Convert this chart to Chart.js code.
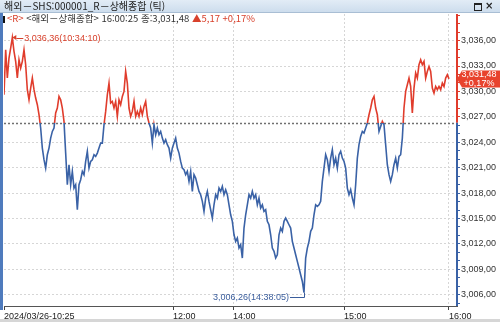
<!DOCTYPE html>
<html lang="ko">
<head>
<meta charset="utf-8">
<script src="https://cdn.jsdelivr.net/npm/chart.js@4.4.1/dist/chart.umd.min.js"></script>
<style>
  html, body { margin: 0; padding: 0; background: #fff; }
  #wrap { position: absolute; left: 0; top: 0; width: 500px; height: 322px; }
  #titlebar {
    position: absolute; left: 0; top: 0; width: 500px; height: 12px;
    background: linear-gradient(#e2ecf6, #cddded); border-bottom: 1px solid #a9bed4;
    font: 10px "Noto Sans CJK KR", sans-serif; color: #222; line-height: 12px;
  }
  #titlebar .t { position: absolute; left: 4px; top: 0; }
  #titlebar .b1 { position: absolute; left: 474px; top: 3px; width: 6px; height: 5px; border: 1px solid #222; border-top-width: 2px; }
  #titlebar .b2 { position: absolute; left: 485px; top: 0; font: bold 10px "DejaVu Sans", sans-serif; }
  #info {
    position: absolute; left: 3px; top: 13px; height: 11px; white-space: nowrap;
    font: 9.5px "Noto Sans CJK KR", sans-serif; color: #333; line-height: 11px;
  }
  #info .r { color: #d8412c; }
  #info .blk { display: inline-block; width: 2px; height: 7px; background: #111; margin-right: 2px; vertical-align: -1px; }
  #edge { position: absolute; left: 0; top: 13px; width: 3px; height: 297px; background: #4f7bbd; }
  #foot { position: absolute; left: 0; top: 319px; width: 500px; height: 3px; background: #d6d6d6; }
</style>
</head>
<body>
<div id="wrap"><canvas id="chart"></canvas></div>
<div id="titlebar"><span class="t">해외－SHS:000001_R－상해종합 (틱)</span><span class="b1"></span><span class="b2">×</span></div>
<div id="info"><span class="blk"></span><span class="r">&lt;R&gt;</span> &lt;해외－상해종합&gt; 16:00:25 종:3,031,48 <span class="r">▲5,17 +0,17%</span></div>
<div id="edge"></div>
<div id="foot"></div>
<script>
// 틱 가격 (10:25 ~ 16:00)
const prices = [
  3029.61, 3034.92, 3031.58, 3033.94, 3035.12, 3036.36, 3034.73, 3033.55, 3031.58, 3033.74,
  3032.76, 3033.55, 3034.92, 3033.15, 3030.20, 3029.02, 3030.40, 3031.58, 3030.20, 3029.22,
  3028.43, 3027.25, 3025.68, 3023.31, 3021.94, 3020.95, 3022.53, 3023.31, 3024.49, 3025.28,
  3025.68, 3027.45, 3028.04, 3029.41, 3029.02, 3028.04, 3026.46, 3022.72, 3018.99, 3021.35,
  3018.99, 3020.56, 3018.59, 3018.99, 3016.03, 3018.99, 3019.58, 3020.56, 3020.17, 3021.74,
  3022.92, 3020.95, 3021.74, 3021.94, 3022.53, 3022.33, 3022.72, 3023.31, 3023.90, 3023.90,
  3026.07, 3027.64, 3029.61, 3030.99, 3028.63, 3028.82, 3028.04, 3028.82, 3027.05, 3029.02,
  3028.43, 3029.41, 3030.00, 3032.36, 3030.99, 3028.04, 3027.05, 3027.64, 3028.82, 3027.05,
  3027.64, 3027.05, 3028.04, 3027.25, 3028.23, 3028.82, 3027.05, 3026.27, 3025.68, 3023.90,
  3026.07, 3024.89, 3025.68, 3024.89, 3025.28, 3024.49, 3023.90, 3024.30, 3023.71, 3023.31,
  3022.13, 3023.31, 3023.90, 3024.49, 3023.31, 3022.72, 3021.74, 3020.95, 3020.76, 3020.17,
  3020.56, 3019.38, 3020.56, 3018.20, 3020.17, 3019.77, 3018.99, 3018.20, 3017.81, 3017.02,
  3015.84, 3017.41, 3018.20, 3017.02, 3016.03, 3015.05, 3016.62, 3017.81, 3017.41, 3018.59,
  3018.20, 3018.79, 3017.81, 3018.40, 3017.81, 3016.62, 3015.44, 3014.66, 3013.08, 3012.30,
  3012.69, 3011.51, 3011.90, 3010.33, 3013.87, 3015.44, 3016.62, 3017.81, 3017.41, 3018.20,
  3017.41, 3017.81, 3016.62, 3017.41, 3016.23, 3016.62, 3015.84, 3016.03, 3014.66, 3014.26,
  3013.08, 3011.51, 3011.12, 3010.33, 3010.72, 3013.08, 3013.87, 3013.48, 3014.66, 3015.05,
  3014.66, 3014.26, 3013.87, 3012.30, 3011.51, 3010.72, 3009.94, 3009.15, 3008.36, 3007.57,
  3006.26, 3010.33, 3011.51, 3012.30, 3013.48, 3013.87, 3015.44, 3016.62, 3016.43, 3016.62,
  3017.02, 3019.38, 3020.95, 3022.53, 3021.94, 3020.56, 3022.13, 3023.12, 3021.35, 3022.13,
  3020.95, 3022.53, 3022.92, 3022.13, 3021.74, 3020.95, 3018.59, 3017.81, 3018.40, 3017.41,
  3016.62, 3018.99, 3022.13, 3023.71, 3024.69, 3025.28, 3025.08, 3025.68, 3026.27, 3027.25,
  3028.04, 3029.02, 3029.41, 3028.04, 3027.25, 3025.28, 3025.87, 3026.46, 3026.07, 3023.71,
  3021.35, 3020.17, 3019.38, 3020.17, 3021.35, 3022.13, 3020.95, 3022.33, 3022.53, 3024.49,
  3028.04, 3030.00, 3030.79, 3031.58, 3030.59, 3027.45, 3030.40, 3032.17, 3031.58, 3033.15,
  3033.74, 3033.15, 3033.55, 3031.58, 3032.36, 3032.95, 3032.36, 3030.40, 3029.81, 3030.59,
  3030.20, 3030.59, 3030.20, 3030.99, 3030.59, 3031.58, 3031.97, 3031.48
];
const prevClose = 3026.31;
const lastPrice = 3031.48;
const changePct = '+0,17%';
const maxTime = '10:34:10';
const minTime = '14:38:05';

// x축 눈금 (틱 순번 기준)
const xTickPos = [0, 101.4, 137.4, 204, 267];
const xTickLabels = ['2024/03/26-10:25', '12:00', '14:00', '15:00', '16:00'];
// y축 눈금
const yMajor = [3006, 3009, 3012, 3015, 3018, 3021, 3024, 3027, 3030, 3033, 3036];
const yMinor = [];
for (let v = 3005; v <= 3039; v++) yMinor.push(v);

const RED = '#e03c2c';
const BLUE = '#3a62a6';
const RED_TXT = '#d8412c';
const BLUE_TXT = '#3a5d9c';

function fmt(v) {
  const [a, b] = v.toFixed(2).split('.');
  return a.replace(/\B(?=(\d{3})+(?!\d))/g, ',') + ',' + b;
}

function lineColor(context) {
  const chart = context.chart;
  const a = chart.chartArea;
  if (!a) return RED;
  const yb = chart.scales.y.getPixelForValue(prevClose);
  const f = Math.min(1, Math.max(0, (yb - a.top) / (a.bottom - a.top)));
  const g = chart.ctx.createLinearGradient(0, a.top, 0, a.bottom);
  g.addColorStop(0, RED);
  g.addColorStop(f, RED);
  g.addColorStop(f, BLUE);
  g.addColorStop(1, BLUE);
  return g;
}

const overlay = {
  id: 'overlay',
  beforeDatasetsDraw(chart) {
    const { ctx, chartArea: a, scales: { y } } = chart;
    const yb = Math.round(y.getPixelForValue(prevClose)) + 0.5;
    ctx.save();
    ctx.strokeStyle = '#707070';
    ctx.lineWidth = 1.5;
    ctx.setLineDash([2, 2]);
    ctx.beginPath();
    ctx.moveTo(a.left, yb);
    ctx.lineTo(a.right, yb);
    ctx.stroke();
    ctx.restore();
  },
  afterDatasetsDraw(chart) {
    const { ctx, chartArea: a, scales: { x, y } } = chart;
    const yb = y.getPixelForValue(prevClose);
    ctx.save();

    // 오른쪽 축선 (전일종가 위 빨강, 아래 파랑)
    ctx.lineWidth = 2;
    ctx.strokeStyle = RED;
    ctx.beginPath(); ctx.moveTo(a.right, a.top); ctx.lineTo(a.right, yb); ctx.stroke();
    ctx.strokeStyle = BLUE;
    ctx.beginPath(); ctx.moveTo(a.right, yb); ctx.lineTo(a.right, a.bottom); ctx.stroke();

    ctx.font = '9px "Liberation Sans"';
    ctx.textBaseline = 'middle';
    ctx.lineWidth = 1;

    // 최고가
    const hi = Math.max(...prices);
    const iHi = prices.indexOf(hi);
    const hx = x.getPixelForValue(iHi), hy = y.getPixelForValue(hi);
    ctx.fillStyle = RED_TXT;
    ctx.strokeStyle = RED_TXT;
    ctx.beginPath(); ctx.moveTo(hx, hy); ctx.lineTo(hx + 4, hy - 2.5); ctx.lineTo(hx + 4, hy + 2.5); ctx.closePath(); ctx.fill();
    ctx.beginPath(); ctx.moveTo(hx + 4, Math.round(hy) + 0.5); ctx.lineTo(hx + 11, Math.round(hy) + 0.5); ctx.stroke();
    ctx.textAlign = 'left';
    ctx.fillText(fmt(hi) + '(' + maxTime + ')', hx + 12, hy + 0.5);

    // 최저가
    const lo = Math.min(...prices);
    const iLo = prices.indexOf(lo);
    const lx = x.getPixelForValue(iLo), ly = y.getPixelForValue(lo);
    const ty = Math.round(ly + 4) + 0.5;
    ctx.fillStyle = BLUE_TXT;
    ctx.strokeStyle = BLUE_TXT;
    ctx.beginPath(); ctx.moveTo(lx - 14, ty); ctx.lineTo(Math.round(lx) + 0.5, ty); ctx.lineTo(Math.round(lx) + 0.5, ly); ctx.stroke();
    ctx.textAlign = 'right';
    ctx.fillText(fmt(lo) + '(' + minTime + ')', lx - 15, ty);

    // 현재가 박스
    const cy = y.getPixelForValue(lastPrice);
    ctx.fillStyle = '#e8432d';
    ctx.beginPath();
    ctx.moveTo(a.right, cy);
    ctx.lineTo(a.right + 5, cy - 8.5);
    ctx.lineTo(500, cy - 8.5);
    ctx.lineTo(500, cy + 8.5);
    ctx.lineTo(a.right + 5, cy + 8.5);
    ctx.closePath();
    ctx.fill();
    ctx.fillStyle = '#fff';
    ctx.textAlign = 'center';
    ctx.fillText(fmt(lastPrice), 479, cy - 4);
    ctx.fillText(changePct, 479, cy + 4.5);

    ctx.restore();
  }
};

new Chart(document.getElementById('chart'), {
  type: 'line',
  data: {
    datasets: [{
      data: prices.map((v, i) => ({ x: i, y: v })),
      borderColor: lineColor,
      borderWidth: 1.6,
      pointRadius: 0,
      tension: 0,
      fill: false
    }]
  },
  options: {
    responsive: true,
    maintainAspectRatio: false,
    animation: false,
    layout: { padding: { top: 14, left: 4, right: 0, bottom: 0 } },
    plugins: { legend: { display: false }, tooltip: { enabled: false } },
    scales: {
      x: {
        type: 'linear',
        min: 0,
        max: 271.8,
        afterBuildTicks: (s) => { s.ticks = xTickPos.map((v) => ({ value: v })); },
        afterFit: (s) => { s.height = 16; },
        ticks: {
          autoSkip: false,
          maxRotation: 0,
          align: 'start',
          padding: 1,
          color: '#222',
          font: { family: 'Liberation Sans', size: 9 },
          callback: (v, i) => xTickLabels[i]
        },
        grid: {
          color: (c) => (c.index === 0 ? 'rgba(0,0,0,0)' : '#d6d6d6'),
          tickColor: '#444',
          tickLength: 4
        },
        border: { display: true, color: '#555', width: 1, dash: [2, 2] }
      },
      y: {
        position: 'right',
        min: 3004.67,
        max: 3039.14,
        afterBuildTicks: (s) => { s.ticks = yMinor.map((v) => ({ value: v })); },
        afterFit: (s) => { s.width = 43; },
        ticks: {
          autoSkip: false,
          padding: 1,
          color: '#333',
          font: { family: 'Liberation Sans', size: 9 },
          callback: (v) => (yMajor.includes(v) ? fmt(v) : '')
        },
        grid: {
          color: (c) => (c.tick && yMajor.includes(c.tick.value) ? '#d6d6d6' : 'rgba(0,0,0,0)'),
          tickColor: (c) => (c.tick && c.tick.value >= prevClose ? RED : BLUE),
          tickLength: 3
        },
        border: { display: false, dash: [2, 2] }
      }
    }
  },
  plugins: [overlay]
});
</script>
</body>
</html>
